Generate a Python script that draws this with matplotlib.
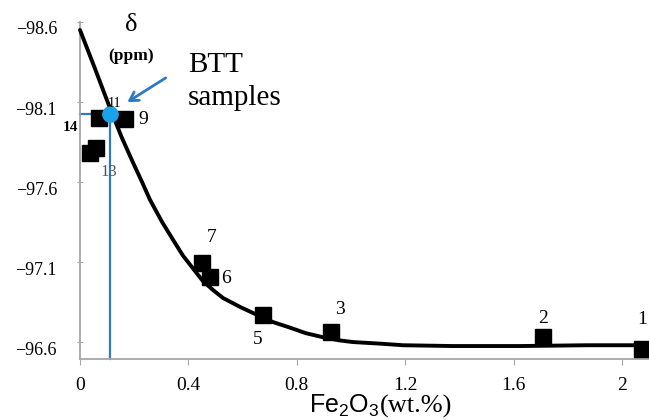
import matplotlib
matplotlib.use("Agg")
import matplotlib.pyplot as plt
from matplotlib.transforms import ScaledTranslation

plt.rcParams['mathtext.fontset'] = 'custom'
plt.rcParams['mathtext.rm'] = 'Liberation Sans'
plt.rcParams['mathtext.it'] = 'Liberation Sans:italic'

# ---- data ----
sample_ids = ['1', '2', '3', '5', '6', '7', '9', '11', '13', '14']
fe2o3 = [2.074, 1.708, 0.926, 0.675, 0.480, 0.450, 0.166, 0.070, 0.059, 0.037]
delta = [-96.556, -96.631, -96.663, -96.769, -97.006, -97.094, -97.994, -98.0, -97.81, -97.78]

trend_x = [0.0, 0.055, 0.111, 0.155, 0.196, 0.229, 0.258, 0.303, 0.343, 0.380,
           0.417, 0.454, 0.491, 0.528, 0.590, 0.653, 0.712, 0.775, 0.834, 0.897,
           0.959, 1.007, 1.107, 1.192, 1.376, 1.624, 1.871, 2.085]
trend_y = [-98.55, -98.31, -98.06, -97.875, -97.72, -97.60, -97.49, -97.35, -97.24,
           -97.14, -97.06, -96.98, -96.925, -96.875, -96.82, -96.77, -96.725, -96.69,
           -96.655, -96.63, -96.61, -96.60, -96.59, -96.58, -96.575, -96.575, -96.58,
           -96.58]

btt_x = 0.111
btt_y = -98.025

x_ticks = [0, 0.4, 0.8, 1.2, 1.6, 2.0]
x_ticklabels = ['0', '0.4', '0.8', '1.2', '1.6', '2']
y_ticks = [-98.6, -98.1, -97.6, -97.1, -96.6]
y_ticklabels = ['\u221298.6', '\u221298.1', '\u221297.6', '\u221297.1', '\u221296.6']

# label offsets in points (layout)
label_offsets = {'1': (0.5, 21.6), '2': (0, 13.7), '3': (6.5, 16.5), '5': (-3.6, -18),
                 '6': (11.5, -0.7), '7': (7.2, 18), '9': (13, -0.7), '11': (11.5, 10.8),
                 '13': (9.4, -17.3), '14': (-14.4, 18.7)}

serif = 'Liberation Serif'

fig = plt.figure(figsize=(6.49, 4.20), dpi=100)
ax = fig.add_axes([80/649, 61/420, 569/649, 337/420])
ax.set_xlim(0, 2.1)
ax.set_ylim(-96.494, -98.6)

for s in ['top', 'right']:
    ax.spines[s].set_visible(False)
for s in ['left', 'bottom']:
    ax.spines[s].set_color('#a6a6a6')
    ax.spines[s].set_linewidth(1.3)

ax.set_xticks(x_ticks)
ax.set_xticklabels(x_ticklabels, fontfamily=serif, fontsize=14)
ax.set_yticks(y_ticks)
ax.set_yticklabels(y_ticklabels, fontfamily=serif, fontsize=13)
ax.tick_params(axis='x', direction='out', length=4, color='#a6a6a6', pad=9)
ax.tick_params(axis='y', direction='inout', length=5, color='#a6a6a6', pad=14)
for lab in ax.get_yticklabels():
    lab.set_transform(lab.get_transform() + ScaledTranslation(0, -6/100, fig.dpi_scale_trans))

# blue guide lines
ax.plot([0, btt_x], [btt_y, btt_y], color='#2f78c8', lw=1.6, zorder=2, clip_on=False)
ax.plot([btt_x, btt_x], [btt_y, -96.494], color='#2f78c8', lw=1.6, zorder=2, clip_on=False)

# squares
ax.plot(fe2o3, delta, linestyle='none', marker='s', markersize=12, color='black',
        zorder=3, clip_on=False)

# trend curve
ax.plot(trend_x, trend_y, color='black', lw=2.8, zorder=4, solid_capstyle='round',
        solid_joinstyle='round', clip_on=False)

# BTT circle
ax.plot([btt_x], [btt_y], marker='o', markersize=11, color='#1aa3e8', zorder=5,
        linestyle='none')

# sample labels
small = {'11': 10, '14': 11, '13': 12}
for sid, x, y in zip(sample_ids, fe2o3, delta):
    dx, dy = label_offsets[sid]
    ax.annotate(sid, (x, y), xytext=(dx, dy), textcoords='offset points',
                ha='center', va='center', fontfamily=serif,
                fontsize=small.get(sid, 14),
                color='#555555' if sid == '13' else 'black',
                fontweight='bold' if sid == '14' else 'normal', zorder=6,
                annotation_clip=False)

# arrow
ax.annotate('', xy=(0.166, -98.09), xytext=(0.325, -98.26),
            arrowprops=dict(arrowstyle='->,head_length=0.6,head_width=0.35',
                            color='#2f78c8', lw=2), zorder=6)

# texts
fig.text(131/649, 1 - 25/420, '\u03b4', fontfamily=serif, fontsize=19,
         ha='center', va='center')
fig.text(131/649, 1 - 56/420, '(ppm)', fontfamily=serif, fontsize=12.5,
         fontweight='bold', ha='center', va='center')
fig.text(188/649, 1 - 72/420, 'BTT', fontfamily=serif, fontsize=21,
         ha='left', va='baseline')
fig.text(188/649, 1 - 105/420, 'samples', fontfamily=serif, fontsize=21,
         ha='left', va='baseline')

fig.text(379/649, 1 - 413/420, r'Fe$_{\mathrm{2}}$O$_{\mathrm{3}}$',
         fontfamily='Liberation Sans', fontsize=18, ha='right', va='baseline')
fig.text(380/649, 1 - 413/420, '(wt.%)', fontfamily=serif, fontsize=19,
         ha='left', va='baseline')

fig.savefig('out.png', dpi=100)
